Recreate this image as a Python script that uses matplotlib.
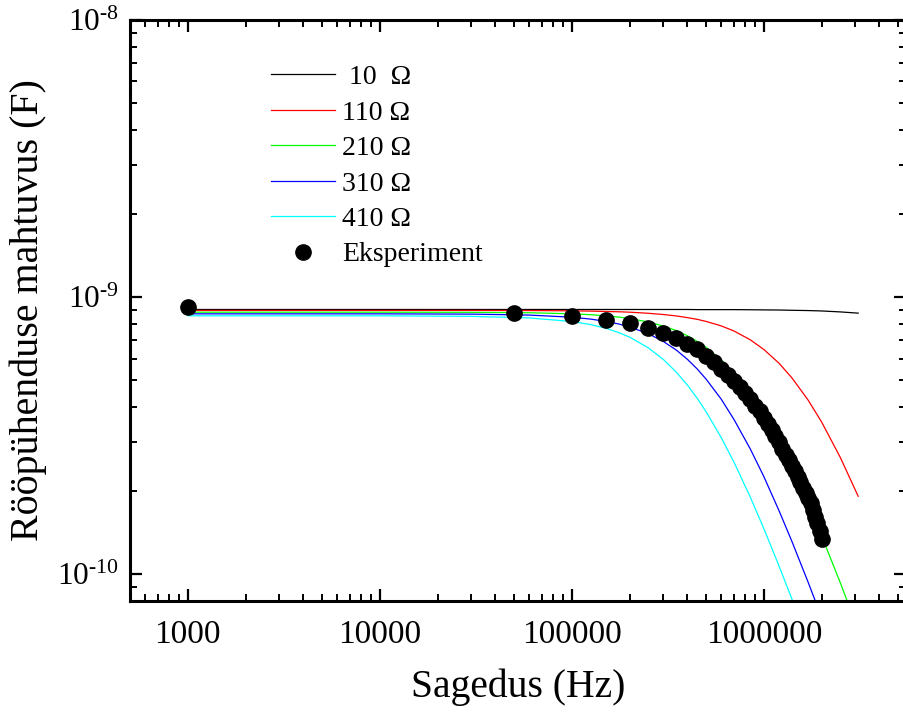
import math
import matplotlib
matplotlib.use("Agg")
import matplotlib.pyplot as plt
from matplotlib.ticker import LogLocator, FixedLocator, FuncFormatter, NullFormatter

plt.rcParams['font.family'] = ['Liberation Serif', 'DejaVu Serif']
plt.rcParams['mathtext.fontset'] = 'custom'
plt.rcParams['mathtext.rm'] = 'Liberation Serif'
plt.rcParams['mathtext.it'] = 'Liberation Serif:italic'

# ---- data ----
model_freq = [1e3, 1e4, 3e4, 6e4, 1e5, 1.25e5, 1.5e5, 1.75e5, 2e5, 2.5e5, 3e5,
              3.5e5, 4e5, 4.5e5, 5e5, 6e5, 7e5, 8.5e5, 1e6, 1.2e6, 1.4e6,
              1.7e6, 2e6, 2.5e6, 3.1e6]
c_10 = [9.02, 9.02, 9.02, 9.02, 9.02, 9.02, 9.02, 9.02, 9.02, 9.02, 9.02,
        9.02, 9.02, 9.01, 9.01, 9.01, 9.01, 9.00, 8.99, 8.98, 8.96,
        8.94, 8.91, 8.84, 8.75]
c_110 = [8.95, 8.95, 8.95, 8.94, 8.92, 8.90, 8.87, 8.85, 8.82, 8.74, 8.65,
         8.55, 8.43, 8.31, 8.17, 7.87, 7.54, 7.01, 6.47, 5.77, 5.11,
         4.25, 3.54, 2.64, 1.91]
c_210 = [8.82, 8.82, 8.81, 8.78, 8.70, 8.64, 8.56, 8.47, 8.37, 8.13, 7.86,
         7.57, 7.25, 6.92, 6.59, 5.93, 5.30, 4.46, 3.75, 2.99, 2.41,
         1.795, 1.374, 0.932, 0.629]
c_310 = [8.70, 8.70, 8.68, 8.61, 8.46, 8.33, 8.17, 8.00, 7.80, 7.38, 6.91,
         6.44, 5.96, 5.50, 5.06, 4.28, 3.61, 2.83, 2.25, 1.694, 1.313,
         0.936, 0.697, 0.459, 0.304]
c_410 = [8.56, 8.56, 8.52, 8.41, 8.16, 7.96, 7.72, 7.45, 7.17, 6.56, 5.95,
         5.36, 4.81, 4.31, 3.86, 3.11, 2.53, 1.897, 1.460, 1.070, 0.813,
         0.569, 0.419, 0.273, 0.179]

exp_freq = [1000, 50000, 100000, 150000, 200000, 250000, 300000, 350000, 400000,
            450000, 500000, 550000, 600000, 650000, 700000, 750000, 800000,
            850000, 900000, 950000, 1000000, 1050000, 1100000, 1150000, 1200000,
            1250000, 1300000, 1350000, 1400000, 1450000, 1500000, 1550000,
            1600000, 1650000, 1700000, 1750000, 1800000, 1850000, 1900000,
            1950000, 2000000]
exp_c = [9.20, 8.75, 8.51, 8.25, 8.03, 7.72, 7.41, 7.10, 6.78, 6.47, 6.15, 5.82,
         5.51, 5.24, 4.97, 4.74, 4.52, 4.28, 4.06, 3.87, 3.67, 3.47, 3.30, 3.14,
         2.99, 2.84, 2.70, 2.58, 2.46, 2.36, 2.25, 2.15, 2.05, 1.97, 1.89, 1.81,
         1.71, 1.61, 1.53, 1.43, 1.34]

series_labels = [' 10  \u03a9', '110 \u03a9', '210 \u03a9', '310 \u03a9', '410 \u03a9']
series_colors = ['#000000', '#FF0000', '#00FF00', '#0000FF', '#00FFFF']
exp_label = 'Eksperiment'
scale = 1e-10

fig = plt.figure(figsize=(9.04, 7.17), dpi=100)
ax = fig.add_axes([130/904, 116/717, 776/904, 581/717])

for vals, lab, col in zip([c_10, c_110, c_210, c_310, c_410], series_labels, series_colors):
    ax.plot(model_freq, [v * scale for v in vals], color=col, lw=0.9, label=lab)

ax.plot(exp_freq, [v * scale for v in exp_c], 'o', color='black', ms=11,
        label=exp_label, zorder=5)

ax.set_xscale('log')
ax.set_yscale('log')
ax.set_xlim(500, 5.5e6)
ax.set_ylim(8e-11, 1e-8)

ax.xaxis.set_major_locator(FixedLocator([1e3, 1e4, 1e5, 1e6]))
ax.xaxis.set_major_formatter(FuncFormatter(lambda v, p: f"{int(round(v))}"))
ax.xaxis.set_minor_locator(LogLocator(base=10, subs=range(2, 10), numticks=20))
ax.xaxis.set_minor_formatter(NullFormatter())

def yfmt(v, p):
    e = int(round(math.log10(v)))
    return r'$\mathregular{10^{\text{%d}}}$' % e

ax.yaxis.set_major_locator(FixedLocator([1e-10, 1e-9, 1e-8]))
ax.yaxis.set_major_formatter(FuncFormatter(yfmt))
ax.yaxis.set_minor_locator(LogLocator(base=10, subs=range(2, 10), numticks=20))
ax.yaxis.set_minor_formatter(NullFormatter())

ax.tick_params(which='both', direction='in', top=True, right=True)
ax.tick_params(which='major', length=8.6, width=1.6, pad=9)
ax.tick_params(axis='x', which='major', labelsize=24, pad=13)
ax.tick_params(axis='y', which='major', labelsize=22.5, pad=8)
ax.tick_params(which='minor', length=4.8, width=1.4)
for s in ax.spines.values():
    s.set_linewidth(2.2)

ax.set_xlabel('Sagedus (Hz)', fontsize=28.5)
ax.set_ylabel('Rööpühenduse mahtuvus (F)', fontsize=28.8)
ax.xaxis.set_label_coords(0.5, -(669 - 601) / 581)
ax.yaxis.set_label_coords(-(130 - 47) / 776, 0.5)

leg = ax.legend(loc='upper left', bbox_to_anchor=(0.182, 0.923), frameon=False,
                fontsize=20, handlelength=2.3, handletextpad=0.25,
                labelspacing=0.36, borderpad=0, borderaxespad=0, numpoints=1)

fig.savefig('out.png', dpi=100)
